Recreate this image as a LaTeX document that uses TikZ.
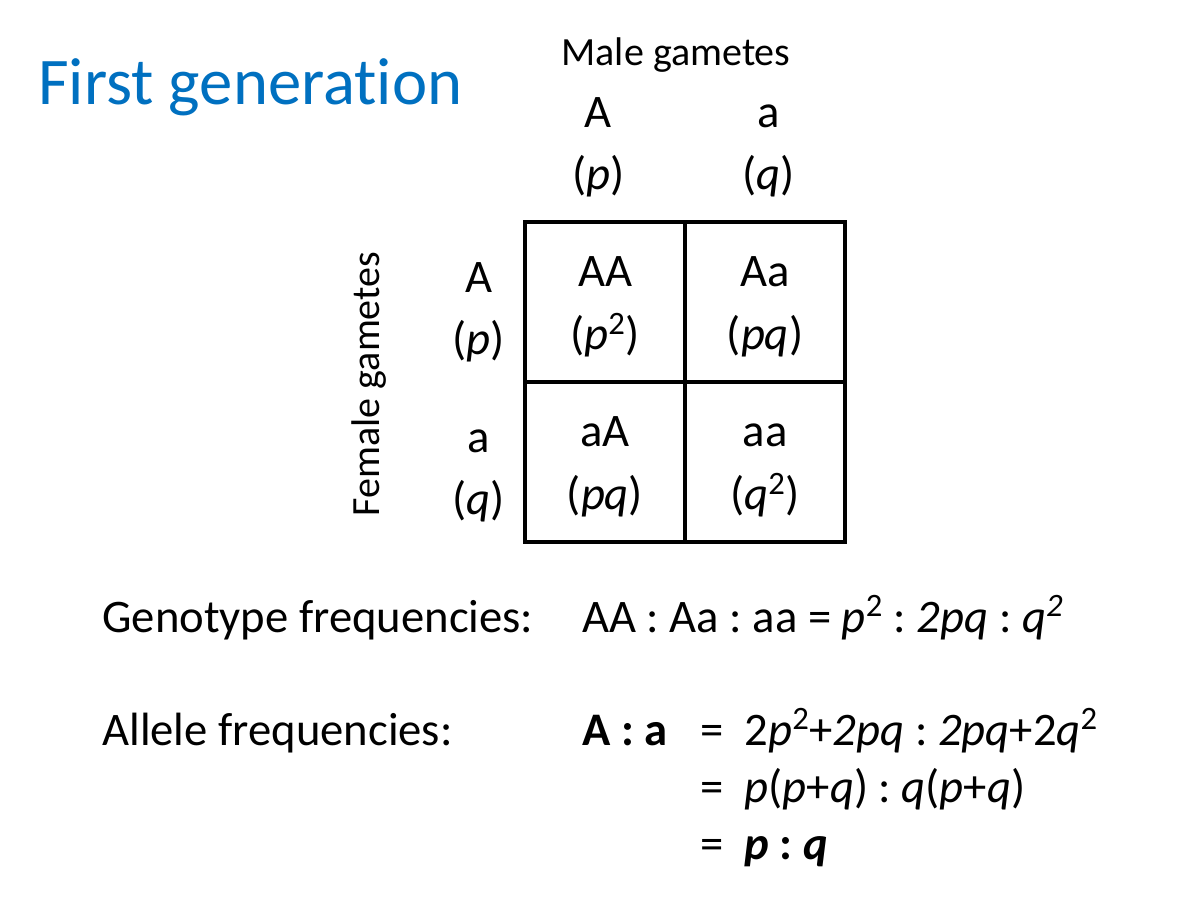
\documentclass[tikz,border=0pt]{standalone}
\usepackage{fontspec}
\setmainfont{Carlito}[Ligatures=NoCommon]
\usetikzlibrary{positioning}
\definecolor{titleblue}{HTML}{0070C0}
\tikzset{
slide title/.style={font=\fontsize{40}{48}\selectfont, text=titleblue, inner sep=0pt, anchor=base west},
slide text/.style={font=\fontsize{28}{37}\selectfont, inner sep=0pt},
gamete label/.style={font=\fontsize{24}{29}\selectfont, inner sep=0pt},
allele head/.style={slide text, align=center},
cell box/.style={draw, line width=2pt, minimum width=96pt, minimum height=96pt, inner sep=0pt},
cell text/.style={font=\fontsize{28}{38}\selectfont, inner sep=0pt, align=center, yshift=-3pt},
line text/.style={slide text, anchor=base west}
}
\newcommand{\ivar}[1]{\textit{#1}}
\newcommand{\capstrut}{\vphantom{A}}
\begin{document}
\frenchspacing
\begin{tikzpicture}[x=0.6pt,y=-0.6pt]
\useasboundingbox[fill=white] (0,0) rectangle (1200,900);
% title
\node[slide title] (title) at (38,104) {First generation};
% gamete headers
\node[gamete label] (male) at (676,55) {Male gametes};
\node[gamete label, rotate=90] (female) at (369,384) {Female gametes};
% Punnett square
\node[cell box] (AA) at (605,302) {};
\node[cell box] (Aa) at (765,302) {};
\node[cell box] (aA) at (605,462) {};
\node[cell box] (aa) at (765,462) {};
\node[cell text] (AAtext) at (AA) {AA\\(\ivar{p}\textsuperscript{2})};
\node[cell text] (Aatext) at (Aa) {Aa\\(\ivar{pq})};
\node[cell text] (aAtext) at (aA) {aA\\(\ivar{pq})};
\node[cell text] (aatext) at (aa) {\capstrut aa\\(\ivar{q}\textsuperscript{2})};
\node[allele head, above=14pt of AA, xshift=-4pt] (colA) {A\\(\ivar{p})};
\node[allele head, above=14pt of Aa, xshift=2pt] (cola) {a\\(\ivar{q})};
\node[allele head, left=11pt of AA, yshift=-6pt] (rowA) {A\\(\ivar{p})};
\node[allele head, left=11pt of aA, yshift=-6pt] (rowa) {\capstrut a\\(\ivar{q})};
% frequencies
\node[line text] (geno) at (102,632) {Genotype frequencies:};
\node[line text] (genoeq) at (582,632) {AA : Aa : aa = \ivar{p}\textsuperscript{2} : \ivar{2pq} : \ivar{q\textsuperscript{2}}};
\node[line text] (allele) at (102,745) {Allele frequencies:};
\node[line text] (ratio) at (582,745) {\textbf{A : a}};
\node[line text] (eqone) at (700,745) {=\ \ 2\ivar{p}\textsuperscript{2}+\ivar{2pq} : \ivar{2pq}+2\ivar{q}\textsuperscript{2}};
\node[line text] (eqtwo) at (700,802) {=\ \ \ivar{p}(\ivar{p}+\ivar{q}) : \ivar{q}(\ivar{p}+\ivar{q})};
\node[line text] (eqthree) at (700,859) {=\ \ \textbf{\ivar{p} : \ivar{q}}};
\end{tikzpicture}
\end{document}
